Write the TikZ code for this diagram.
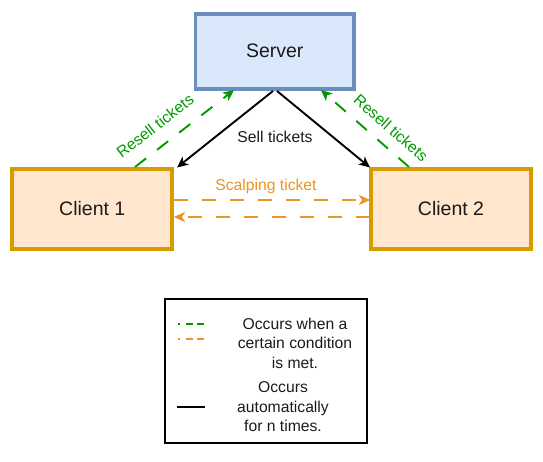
\documentclass[tikz,border=0pt]{standalone}
\usepackage{fontspec}
\setmainfont{Liberation Sans}
\usetikzlibrary{arrows.meta}
\definecolor{srvfill}{HTML}{DAE8FC}
\definecolor{srvline}{HTML}{6C8EBF}
\definecolor{clifill}{HTML}{FFE6CC}
\definecolor{cliline}{HTML}{D79B00}
\definecolor{grn}{HTML}{009900}
\definecolor{orn}{HTML}{EC9320}
\definecolor{txt}{HTML}{1A1A1A}
\tikzset{
  srvbox/.style={draw=srvline, fill=srvfill, line width=3.8pt, minimum width=158.5pt, minimum height=75pt, inner sep=0pt, font=\fontsize{19.5}{23}\selectfont, text=txt},
  clibox/.style={draw=cliline, fill=clifill, line width=3.8pt, minimum width=160pt, minimum height=80pt, inner sep=0pt, font=\fontsize{19.5}{23}\selectfont, text=txt},
  conn/.style={line width=1.9pt, -{Stealth[length=11pt,width=10pt,inset=3pt]}},
  dsh/.style={dash pattern=on 14pt off 14pt},
  lbl/.style={font=\fontsize{15.7}{18}\selectfont, inner sep=0pt},
  legtxt/.style={font=\fontsize{15.7}{19.5}\selectfont, align=center, text=txt, inner sep=0pt},
  legdash/.style={line width=2pt, dash pattern=on 2.5pt off 6pt on 7pt off 4pt on 7pt off 4pt}
}
\begin{document}
\begin{tikzpicture}[x=1pt,y=-1pt]
\useasboundingbox (0,0) rectangle (543,462);
\node[srvbox] (srv) at (274.75,51.25) {Server};
\node[clibox] (c1) at (92.25,209) {Client 1};
\node[clibox] (c2) at (451,209) {Client 2};
% server-bottom anchors
\coordinate (sb1) at (273,91);
\coordinate (sb2) at (277,91);
\coordinate (c1t) at (177,167.5);
\coordinate (c2t) at (370,167.5);
\draw[conn, black] (sb1) -- (c1t);
\draw[conn, black] (sb2) -- (c2t);
\node[lbl, text=txt] (sell) at (275,137) {Sell tickets};
% green dashed
\coordinate (g1s) at (135,167);
\coordinate (g1e) at (234,90);
\coordinate (g2s) at (409,167);
\coordinate (g2e) at (321,90);
\draw[conn, grn, dsh] (g1s) -- (g1e);
\draw[conn, grn, dsh] (g2s) -- (g2e);
\node[lbl, text=grn, rotate=37.8] (rs1) at (155,126) {Resell tickets};
\node[lbl, text=grn, rotate=-41.5] (rs2) at (391,128) {Resell tickets};
% orange dashed
\coordinate (o1s) at (174,200);
\coordinate (o1e) at (370,200);
\coordinate (o2s) at (370,217);
\coordinate (o2e) at (174,217);
\draw[conn, orn, dsh] (o1s) -- (o1e);
\draw[conn, orn, dsh] (o2s) -- (o2e);
\node[lbl, text=orn] (scalp) at (266,186) {Scalping ticket};
% legend
\node[draw=black, line width=1.2pt, minimum width=202pt, minimum height=144pt, inner sep=0pt] (leg) at (266,371) {};
\coordinate (lg1a) at (177.5,323.7);
\coordinate (lg1b) at (205,323.7);
\coordinate (lg2a) at (177.5,339);
\coordinate (lg2b) at (205,339);
\coordinate (lg3a) at (177,406.5);
\coordinate (lg3b) at (205,406.5);
\draw[grn, legdash] (lg1a) -- (lg1b);
\draw[orn, legdash] (lg2a) -- (lg2b);
\draw[black, line width=2pt] (lg3a) -- (lg3b);
\node[legtxt] (lt1) at (295,343) {Occurs when a\\certain condition\\is met.};
\node[legtxt] (lt2) at (283,407) {Occurs\\automatically\\for n times.};
\end{tikzpicture}
\end{document}
